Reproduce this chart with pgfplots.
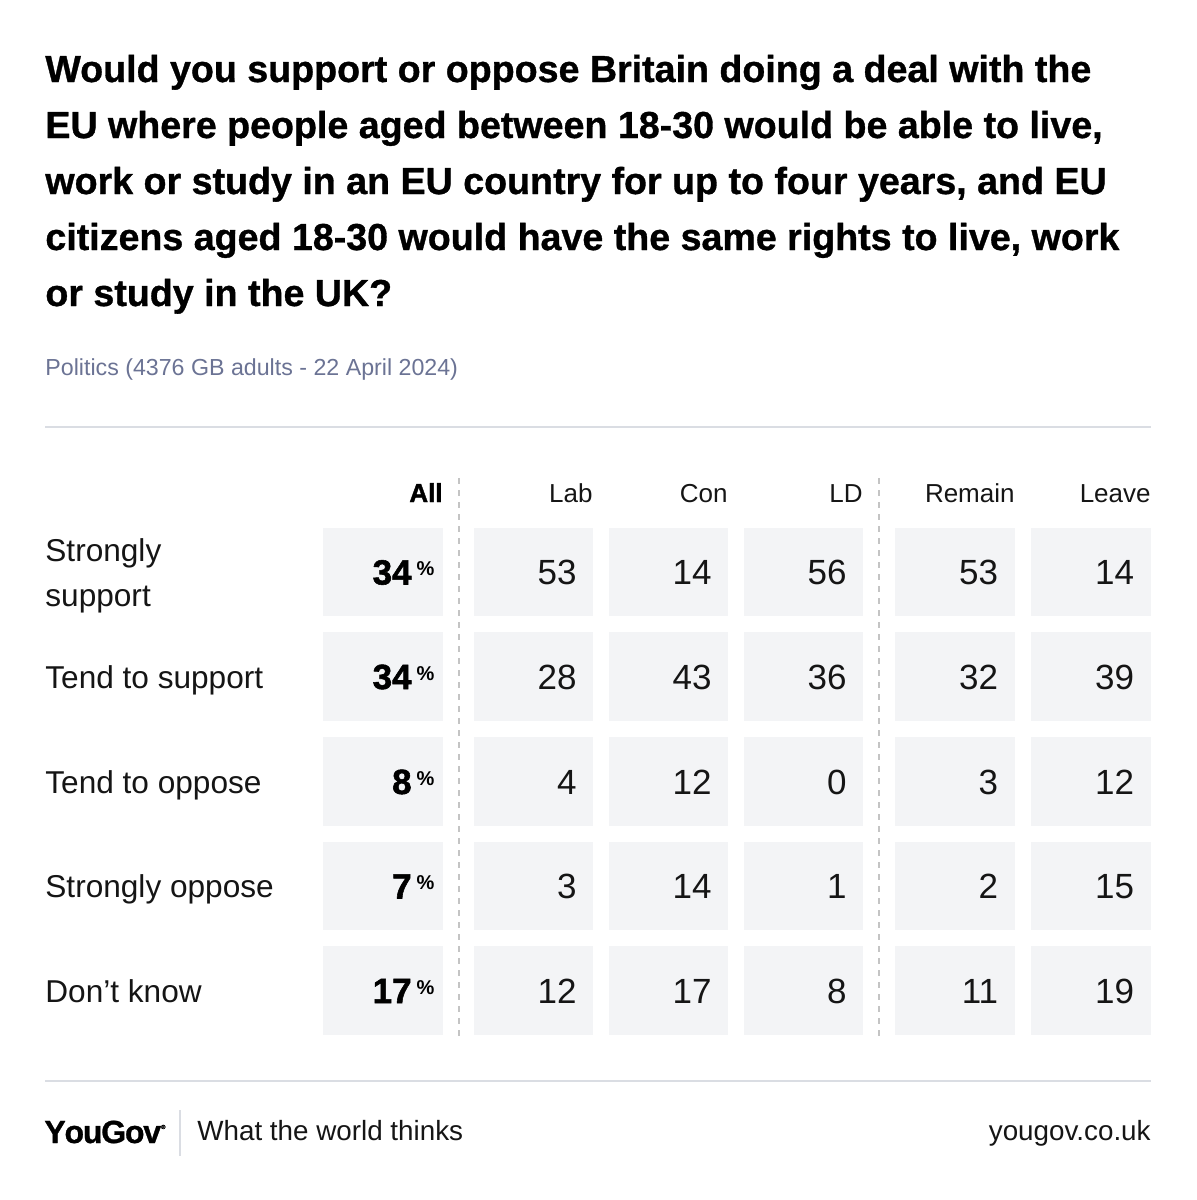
\documentclass[border=0pt]{standalone}
\usepackage{pgfplots}
\pgfplotsset{compat=1.18}
\usepackage{pgfplotstable}
\usepackage{fontspec}
\setmainfont{Liberation Sans}
\newfontfamily\titlefont{Liberation Sans}[BoldFeatures={FakeBold=0.9}]
\newfontfamily\heavyfont{Liberation Sans}[BoldFeatures={FakeBold=1.6}]
\definecolor{cellgrey}{HTML}{F3F4F6}
\definecolor{rulegrey}{HTML}{DADDE3}
\definecolor{dashgrey}{HTML}{C4C4C4}
\definecolor{subblue}{HTML}{6B7394}
\definecolor{ink}{HTML}{151515}

\pgfdeclareplotmark{cell}{\pgfpathrectangle{\pgfpoint{-29.9pt}{-22.2pt}}{\pgfpoint{59.8pt}{44.4pt}}\pgfusepathqfill}

% cell centres (pixel coords) and values
\pgfplotstableread{
x y v
533.5 572 53
668.5 572 14
803.5 572 56
955 572 53
1091 572 14
533.5 676.5 28
668.5 676.5 43
803.5 676.5 36
955 676.5 32
1091 676.5 39
533.5 781.5 4
668.5 781.5 12
803.5 781.5 0
955 781.5 3
1091 781.5 12
533.5 886 3
668.5 886 14
803.5 886 1
955 886 2
1091 886 15
533.5 990.5 12
668.5 990.5 17
803.5 990.5 8
955 990.5 11
1091 990.5 19
}\groups

\pgfplotstableread{
x y v
383 572 34
383 676.5 34
383 781.5 8
383 886 7
383 990.5 17
}\allcol

\newcommand{\pct}[1]{{\heavyfont\bfseries #1}\rlap{\hspace{2.5pt}\raisebox{4.4pt}{\fontsize{10}{10}\selectfont\bfseries\%}}}

\begin{document}
\begin{tikzpicture}
\begin{axis}[name=ax, width=598pt, height=600pt, scale only axis,
  xmin=0, xmax=1196, ymin=0, ymax=1200, y dir=reverse,
  hide axis, clip=false]

% grey cells with values
\addplot[only marks, mark=cell, mark options={fill=cellgrey, draw=cellgrey},
  nodes near coords, point meta=explicit symbolic,
  nodes near coords style={anchor=base east, inner sep=0pt, xshift=21.75pt, yshift=-6.25pt,
    font=\fontsize{17.5}{18}\selectfont, text=ink}]
  table[x=x, y=y, meta=v] {\groups};

\addplot[only marks, mark=cell, mark options={fill=cellgrey, draw=cellgrey},
  nodes near coords={\pct{\pgfplotspointmeta}}, point meta=explicit symbolic,
  nodes near coords style={anchor=base east, inner sep=0pt, xshift=14.5pt, yshift=-6.25pt,
    font=\fontsize{17.5}{18}\selectfont, text=black}]
  table[x=x, y=y, meta=v] {\allcol};

% rules
\addplot[rulegrey, line width=1pt] coordinates {(45,427) (1151,427)};
\addplot[rulegrey, line width=1pt] coordinates {(45,1081) (1151,1081)};
\addplot[dashgrey, line width=0.7pt, dash pattern=on 3pt off 3pt] coordinates {(459,478) (459,1036)};
\addplot[dashgrey, line width=0.7pt, dash pattern=on 3pt off 3pt] coordinates {(879,478) (879,1036)};
\addplot[rulegrey, line width=0.8pt] coordinates {(180,1110) (180,1156)};

% title
\begin{scope}[every node/.style={anchor=base west, inner sep=0pt, text=black,
  font=\titlefont\fontsize{18.8}{20}\selectfont\bfseries}]
\node at (axis cs:45,82) {Would you support or oppose Britain doing a deal with the};
\node at (axis cs:45,138) {EU where people aged between 18-30 would be able to live,};
\node at (axis cs:45,194) {work or study in an EU country for up to four years, and EU};
\node at (axis cs:45,250) {citizens aged 18-30 would have the same rights to live, work};
\node at (axis cs:45,306) {or study in the UK?};
\end{scope}

\node[anchor=base west, inner sep=0pt, text=subblue, font=\fontsize{11.6}{12}\selectfont]
  at (axis cs:45,375) {Politics (4376 GB adults - 22 April 2024)};

% column headers
\begin{scope}[every node/.style={anchor=base east, inner sep=0pt, text=ink,
  font=\fontsize{13}{14}\selectfont}]
\node[font=\heavyfont\fontsize{13}{14}\selectfont\bfseries, text=black] at (axis cs:443,502) {All};
\node at (axis cs:593,502) {Lab};
\node at (axis cs:728,502) {Con};
\node at (axis cs:863,502) {LD};
\node at (axis cs:1015,502) {Remain};
\node at (axis cs:1151,502) {Leave};
\end{scope}

% row labels
\begin{scope}[every node/.style={anchor=base west, inner sep=0pt, text=ink,
  font=\fontsize{15.8}{17}\selectfont}]
\node at (axis cs:45,561) {Strongly};
\node at (axis cs:45,606) {support};
\node at (axis cs:45,688) {Tend to support};
\node at (axis cs:45,793) {Tend to oppose};
\node at (axis cs:45,897) {Strongly oppose};
\node at (axis cs:45,1002) {Don’t know};
\end{scope}

% footer
\node[anchor=base west, inner sep=0pt, font=\titlefont\fontsize{16}{16}\selectfont\bfseries]
  at (axis cs:44,1143) {Y\kern-0.6pt o\kern-0.6pt u\kern-0.6pt G\kern-0.6pt o\kern-0.6pt v\raisebox{7pt}{\fontsize{3}{3}\selectfont\textregistered}};
\node[anchor=base west, inner sep=0pt, text=ink, font=\fontsize{13.9}{14}\selectfont]
  at (axis cs:197,1140) {What the world thinks};
\node[anchor=base east, inner sep=0pt, text=ink, font=\fontsize{13.9}{14}\selectfont]
  at (axis cs:1151,1140) {yougov.co.uk};
\end{axis}
\pgfresetboundingbox
\path (ax.south west) rectangle (ax.north east);
\end{tikzpicture}
\end{document}
